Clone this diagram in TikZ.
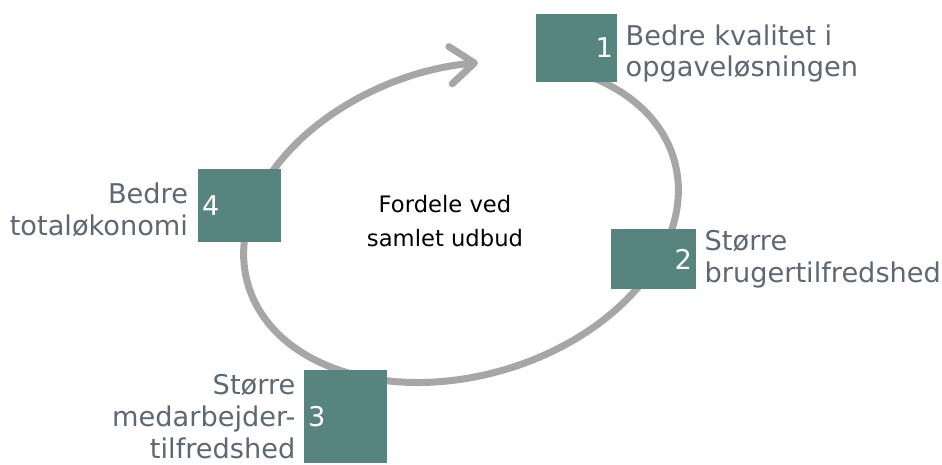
\documentclass[tikz,border=0pt]{standalone}
\usepackage{fontspec}
\setmainfont{DejaVu Sans}
\usetikzlibrary{positioning,arrows.meta}

\definecolor{boxteal}{RGB}{88,132,128}
\definecolor{labgray}{RGB}{94,104,114}
\definecolor{loopgray}{RGB}{166,166,166}

\tikzset{every picture/.style={line width=0.75pt}}
\tikzset{
  box/.style={fill=boxteal, inner sep=0pt},
  num/.style={text=white, inner sep=3pt, font=\fontsize{20.4}{24}\selectfont},
  lbl/.style={text=labgray, inner sep=0.75pt, font=\fontsize{20.4}{24}\selectfont},
}

\begin{document}
\begin{tikzpicture}[x=0.75pt,y=0.75pt,yscale=-1,xscale=1]
\useasboundingbox (0,0) rectangle (942,464);

%Loop arrow
\begin{scope}[shift={(461,222)}, rotate=-16.4]
\draw [loopgray, line width=5.25pt, line cap=round, -{Straight Barb[length=18pt,width=28pt,round]}] (-45:222 and 154) arc [start angle=-45, end angle=286, x radius=222, y radius=154];
\end{scope}

%Boxes
\node [box, minimum width=60.75pt, minimum height=51pt] (box1) at (576.5,48) {};
\node [box, minimum width=63.75pt, minimum height=45pt] (box2) at (653.5,259) {};
\node [box, minimum width=62.25pt, minimum height=69.75pt] (box3) at (345.5,416.5) {};
\node [box, minimum width=62.25pt, minimum height=54.75pt] (box4) at (239.5,205.5) {};

%Numbers
\node [num, anchor=east] (n1) at (box1.east) {1};
\node [num, anchor=east] (n2) at (box2.east) {2};
\node [num, anchor=west] (n3) at (box3.west) {3};
\node [num, anchor=west] (n4) at (box4.west) {4};

%Labels
\node [lbl, align=left, below right=7pt and 5pt of box1.north east] (t1) {Bedre kvalitet i\\opgaveløsningen};
\node [lbl, align=left, right=5pt of box2] (t2) {Større\\brugertilfredshed};
\node [lbl, align=right, left=5pt of box3] (t3) {Større\\medarbejder-\\tilfredshed};
\node [lbl, align=right, below left=9.4pt and 6pt of box4.north west] (t4) {Bedre\\totaløkonomi};

%Center text
\node [align=center, font=\fontsize{17}{25}\selectfont] (mid) at (445,221) {Fordele ved\\samlet udbud};

\end{tikzpicture}
\end{document}
